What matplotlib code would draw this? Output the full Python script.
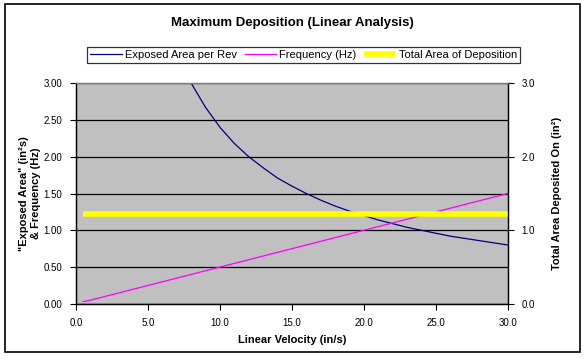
import numpy as np
import matplotlib
matplotlib.use("Agg")
import matplotlib.pyplot as plt
from matplotlib.patches import Rectangle
from matplotlib.ticker import MultipleLocator, FormatStrFormatter

plt.rcParams['font.family'] = ['Liberation Sans', 'DejaVu Sans']

# linear velocity (in/s)
velocity = [0.5, 1, 2, 3, 4, 5, 6, 7, 8, 9, 10, 11, 12, 13, 14, 15,
            16, 17, 18, 19, 20, 21, 22, 23, 24, 25, 26, 27, 28, 29, 30]
# exposed area per rev (in^2 s)
exposed_area = [48.0, 24.0, 12.0, 8.00, 6.00, 4.80, 4.00, 3.43, 3.00, 2.67,
                2.40, 2.18, 2.00, 1.85, 1.71, 1.60, 1.50, 1.41, 1.33, 1.26,
                1.20, 1.14, 1.09, 1.04, 1.00, 0.96, 0.92, 0.89, 0.86, 0.83, 0.80]
# frequency (Hz)
frequency = [0.03, 0.05, 0.10, 0.15, 0.20, 0.25, 0.30, 0.35, 0.40, 0.45,
             0.50, 0.55, 0.60, 0.65, 0.70, 0.75, 0.80, 0.85, 0.90, 0.95,
             1.00, 1.05, 1.10, 1.15, 1.20, 1.25, 1.30, 1.35, 1.40, 1.45, 1.50]
# total area of deposition (in^2), constant
total_area = 1.22


def main():
    fig = plt.figure(figsize=(5.85, 3.6), dpi=100)
    fig.patches.append(Rectangle((0.0085, 0.022), 0.983, 0.967, transform=fig.transFigure,
                                 fill=False, edgecolor='black', linewidth=1.2))
    ax = fig.add_axes([0.130, 0.156, 0.738, 0.613])
    ax.set_facecolor('#C0C0C0')

    ax.plot(velocity, exposed_area, color='#000080', lw=0.9, label='Exposed Area per Rev')
    ax.plot(velocity, frequency, color='#FF00FF', lw=0.9, label='Frequency (Hz)')

    ax2 = ax.twinx()
    ax2.plot([velocity[0], velocity[-1]], [total_area, total_area], color='#FFFF00', lw=4,
             label='Total Area of Deposition', solid_capstyle='butt')

    ax.set_xlim(0, 30)
    ax.set_ylim(0, 3)
    ax2.set_ylim(0, 3)
    ax.xaxis.set_major_locator(MultipleLocator(5))
    ax.yaxis.set_major_locator(MultipleLocator(0.5))
    ax2.yaxis.set_major_locator(MultipleLocator(1))
    ax.xaxis.set_major_formatter(FormatStrFormatter('%.1f'))
    ax.yaxis.set_major_formatter(FormatStrFormatter('%.2f'))
    ax2.yaxis.set_major_formatter(FormatStrFormatter('%.1f'))
    ax.grid(axis='y', color='black', lw=0.9)
    ax.set_axisbelow(True)

    for a in (ax, ax2):
        a.tick_params(direction='out', length=4, width=0.8, labelsize=7, pad=6)
        for s in a.spines.values():
            s.set_linewidth(0.9)
        a.spines['top'].set_color('#808080')

    ax.set_xlabel('Linear Velocity (in/s)', fontsize=8, fontweight='bold', labelpad=5)
    ax.set_ylabel('"Exposed Area" (in\u00b2s)\n& Frequency (Hz)', fontsize=8,
                  fontweight='bold', labelpad=2, linespacing=1.2)
    ax2.set_ylabel('Total Area Deposited On (in\u00b2)', fontsize=8, fontweight='bold', labelpad=12)

    fig.text(0.5, 0.935, 'Maximum Deposition (Linear Analysis)', ha='center', va='center',
             fontsize=9.5, fontweight='bold')

    h1, l1 = ax.get_legend_handles_labels()
    h2, l2 = ax2.get_legend_handles_labels()
    leg = fig.legend(h1 + h2, l1 + l2, loc='center', bbox_to_anchor=(0.519, 0.847), ncol=3,
                     fontsize=8, frameon=True, fancybox=False, edgecolor='black',
                     handlelength=2.8, handletextpad=0.3, columnspacing=0.7,
                     borderpad=0.3)
    leg.get_frame().set_linewidth(0.9)

    fig.savefig('out.png', dpi=100)


if __name__ == "__main__":
    main()
